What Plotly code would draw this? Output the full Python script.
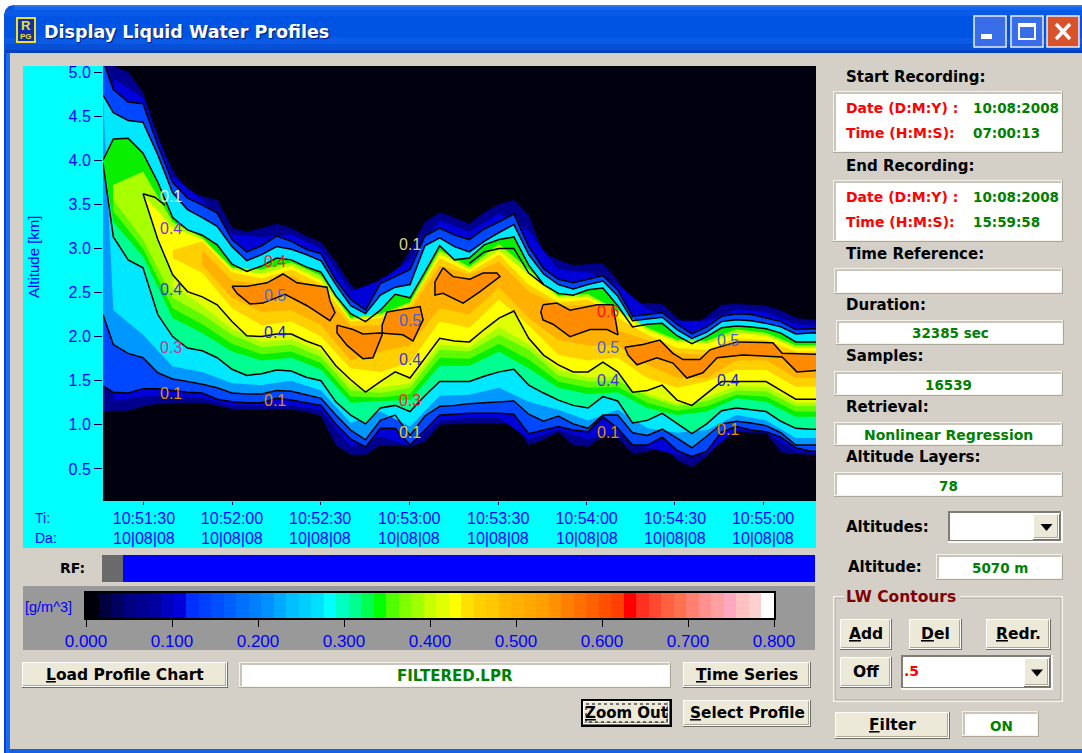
import plotly.graph_objects as go

W, H = 1082, 753
# ---------- chart data: seconds after 10:51:00, altitudes in km ----------
time_fine = [16.5, 20, 25, 30, 35, 40, 45, 50, 55, 60, 65, 70, 75, 80, 85, 90, 95, 100, 105, 110, 115, 120, 125, 130, 135,
             140, 145, 150, 155, 160, 165, 170, 175, 180, 185, 190, 195, 200, 205, 210, 215, 220, 225, 230, 235, 240, 245,
             250, 255, 260]
time_coarse = [20, 30, 40, 50, 60, 70, 80, 90, 100, 110, 120, 130, 140, 150, 160, 170, 180, 190, 200, 210, 220, 230, 240, 250, 260]

edge_top = [5.14,5.07,5.00,4.77,4.25,3.89,3.66,3.59,3.55,3.23,3.19,3.23,3.28,3.23,3.14,3.07,2.85,2.59,2.42,2.66,2.71,2.98,3.30,3.41,3.35,3.28,3.41,3.50,3.55,3.38,2.94,2.87,2.81,2.82,2.83,2.64,2.36,2.38,2.37,2.21,2.12,2.23,2.36,2.37,2.36,2.35,2.30,2.21,2.19,2.19]
upper_1 = [5.14,4.80,4.66,4.64,4.17,3.75,3.57,3.49,3.40,3.10,2.96,3.03,3.14,3.08,2.99,2.94,2.64,2.42,2.30,2.60,2.68,2.76,3.14,3.23,3.15,3.10,3.22,3.30,3.39,3.02,2.77,2.65,2.61,2.65,2.69,2.53,2.23,2.25,2.27,2.14,2.03,2.11,2.23,2.26,2.25,2.21,2.17,2.08,2.09,2.09]
upper_2 = [4.74,4.54,4.45,4.43,4.06,3.63,3.44,3.35,3.25,3.02,2.86,2.93,3.02,2.99,2.93,2.86,2.59,2.35,2.26,2.47,2.56,2.59,3.03,3.12,3.02,2.96,3.08,3.18,3.27,2.93,2.71,2.59,2.54,2.59,2.63,2.46,2.18,2.20,2.22,2.08,1.98,2.05,2.17,2.19,2.18,2.15,2.11,2.03,2.04,2.04]
upper_3 = [4.00,4.24,4.25,4.08,3.75,3.35,3.21,3.15,3.04,2.82,2.74,2.80,2.89,2.87,2.79,2.73,2.46,2.26,2.17,2.30,2.48,2.44,2.73,3.03,2.87,2.89,3.04,3.10,3.13,2.81,2.59,2.49,2.47,2.53,2.55,2.35,2.11,2.14,2.15,2.01,1.92,2.00,2.10,2.12,2.11,2.09,2.04,1.94,1.94,1.94]
lower_4 = [None,None,None,3.62,3.10,2.70,2.51,2.45,2.36,2.17,2.01,2.00,2.03,2.03,1.95,1.89,1.67,1.51,1.37,1.49,1.60,1.53,1.76,1.98,1.95,1.94,2.08,2.21,2.29,1.98,1.79,1.68,1.60,1.60,1.71,1.60,1.37,1.39,1.45,1.28,1.22,1.36,1.49,1.49,1.49,1.49,1.39,1.29,1.29,1.29]
lower_3 = [3.97,3.13,2.87,2.78,2.25,2.00,1.87,1.84,1.76,1.63,1.56,1.58,1.62,1.61,1.54,1.50,1.26,1.11,1.01,1.19,1.22,1.15,1.33,1.49,1.49,1.49,1.55,1.60,1.63,1.45,1.36,1.28,1.22,1.19,1.32,1.27,1.02,1.05,1.13,1.01,0.90,1.01,1.16,1.19,1.17,1.15,1.04,0.96,0.95,0.95]
lower_2 = [2.25,1.91,1.81,1.76,1.59,1.52,1.49,1.46,1.42,1.36,1.35,1.35,1.39,1.38,1.34,1.30,1.11,0.94,0.83,1.05,1.11,0.88,1.10,1.21,1.22,1.24,1.25,1.26,1.27,1.12,1.04,1.10,1.01,0.96,1.11,1.11,0.91,0.88,0.95,0.85,0.74,0.87,1.01,1.04,1.02,0.99,0.91,0.77,0.77,0.77]
lower_1 = [1.44,1.37,1.36,1.41,1.41,1.39,1.37,1.36,1.29,1.26,1.25,1.25,1.30,1.28,1.25,1.22,1.01,0.84,0.75,0.96,0.96,0.77,0.94,1.11,1.12,1.13,1.13,1.13,1.12,0.90,0.94,0.98,0.94,0.92,1.09,0.96,0.77,0.77,0.86,0.71,0.64,0.70,0.92,0.98,0.94,0.92,0.86,0.74,0.70,0.70]
edge_bottom = [1.15,1.16,1.16,1.21,1.24,1.25,1.25,1.25,1.22,1.18,1.17,1.17,1.17,1.17,1.15,1.10,0.77,0.66,0.66,0.77,0.77,0.75,0.81,1.00,1.01,1.02,1.02,1.02,1.02,0.77,0.83,0.92,0.77,0.75,0.87,0.85,0.68,0.69,0.79,0.60,0.52,0.64,0.83,0.92,0.91,0.91,0.69,0.67,0.66,0.66]

deep_top = [4.93,4.71,3.82,3.55,3.16,3.13,3.16,3.00,2.51,2.64,2.87,3.32,3.19,3.40,3.20,2.76,2.73,2.59,2.31,2.18,2.18,2.31,2.28,2.14,2.13]
deep_bottom = [1.27,1.32,1.33,1.30,1.22,1.21,1.22,1.17,0.75,0.87,0.76,1.05,1.08,1.08,0.84,0.94,0.84,0.91,0.74,0.66,0.67,0.94,0.91,0.70,0.68]
cyan_bottom = [2.30,2.02,1.66,1.60,1.47,1.45,1.50,1.39,1.02,1.15,0.98,1.33,1.34,1.42,1.26,1.17,1.05,1.17,0.96,0.91,0.94,1.11,1.05,0.85,0.85]
green_bottom = [3.30,2.91,2.21,2.04,1.83,1.73,1.76,1.63,1.25,1.27,1.28,1.67,1.67,1.83,1.64,1.42,1.35,1.37,1.19,1.11,1.15,1.30,1.26,1.09,1.09]
chartreuse_bottom = [3.42,3.00,2.32,2.14,1.92,1.80,1.83,1.70,1.32,1.31,1.35,1.76,1.75,1.92,1.74,1.49,1.42,1.43,1.25,1.16,1.21,1.34,1.32,1.15,1.15]
lime_bottom = [3.55,3.10,2.44,2.25,2.02,1.88,1.91,1.77,1.39,1.36,1.42,1.85,1.83,2.02,1.85,1.56,1.49,1.50,1.32,1.21,1.27,1.39,1.38,1.21,1.21]
lime_top = [3.72,3.87,3.30,3.12,2.78,2.76,2.84,2.69,2.21,2.26,2.39,2.98,2.79,3.05,2.76,2.46,2.48,2.30,2.10,1.96,1.95,2.08,2.04,1.90,1.90]
sun_bottom = [2.57,2.35,2.09,1.94,1.97,1.83,1.45,1.42,1.47,1.91,1.88,2.11,1.91,1.62,1.54,1.55,1.35,1.24,1.31,1.44,1.43,1.25,1.25]
yellow_top = [3.61,3.23,3.10,2.76,2.71,2.80,2.64,2.19,2.23,2.37,2.94,2.76,2.98,2.70,2.44,2.45,2.28,2.07,1.94,1.92,2.04,2.01,1.87,1.87]
gold_top = [2.98,3.08,2.73,2.66,2.76,2.60,2.17,2.21,2.36,2.89,2.73,2.93,2.59,2.39,2.42,2.21,2.02,1.87,1.85,1.98,1.96,1.83,1.83]
gold_bottom = [2.89,2.72,2.32,2.13,2.17,2.00,1.64,1.60,1.71,2.17,2.10,2.42,2.13,1.79,1.73,1.76,1.53,1.42,1.49,1.62,1.62,1.43,1.43]
amber_top = [2.98,2.64,2.59,2.69,2.51,2.12,2.13,2.30,2.81,2.70,2.85,2.51,2.35,2.36,2.07,1.96,1.81,1.79,1.94,1.91,1.76,1.76]
amber_bottom = [2.81,2.44,2.28,2.30,2.13,1.73,1.83,1.90,2.32,2.25,2.56,2.21,1.96,1.90,1.90,1.68,1.53,1.53,1.73,1.73,1.53,1.53]

extra_time = [140, 145, 150, 155, 160, 165]
extra_alt = [2.83, 2.96, 3.00, 3.00, 2.72, 2.59]
hook_time = [30, 34, 37.4]
hook_alt = [3.62, 3.58, 3.49]

island_a_t = [60,61.7,66.1,70.4,77.9,85.3,93,94.7,93,92,81.9,77.2,71.8,65.1,60]
island_a_alt = [2.57,2.49,2.37,2.38,2.48,2.35,2.18,2.27,2.41,2.56,2.61,2.71,2.61,2.57,2.57]
island_b_t = [95.4,100.8,104.1,109.9,117.6,121,122.7,124.4,123.4,116.6,112.2,110.6,110.6,107.5,104.1,98.8,95.4,95.4]
island_b_alt = [2.13,2.08,2.03,2.04,2.02,1.95,2.07,2.19,2.34,2.30,2.28,2.13,2.02,1.76,1.75,1.90,2.04,2.13]
island_c_t = [131.1,128.4,128.4,131.1,137.9,143.6,150.3,149.3,144.6,140.2,134.5,131.1]
island_c_alt = [2.78,2.62,2.47,2.49,2.38,2.51,2.68,2.72,2.72,2.65,2.68,2.78]
island_d_t = [164.8,169.5,173.9,183,188.4,190.1,186.4,180.7,173.9,168.2,164.8,164.1,164.8]
island_d_alt = [2.36,2.38,2.30,2.36,2.36,2.02,2.08,2.08,2.00,2.14,2.19,2.28,2.36]
island_e_t = [192.4,198.5,204.2,208.6,212,217.7,221.1,230.2,242.3,245.4,258,258,250.4,245.4,232.2,223.5,218.7,213.3,208.6,203.2,196.5,193.5,192.4]
island_e_alt = [1.88,1.91,1.96,1.81,1.74,1.74,1.85,1.94,1.93,1.81,1.80,1.62,1.60,1.77,1.79,1.76,1.59,1.53,1.70,1.76,1.68,1.79,1.88]

label_text = ["0.1","0.4","0.4","0.3","0.1","0.4","0.5","0.4","0.1","0.1","0.5","0.4","0.3","0.1","0.6","0.5","0.4","0.1","0.5","0.4","0.1"]
label_t = [39.4,39.4,39.4,39.4,39.4,74.5,74.5,74.5,74.5,120,120,120,120,120,186.7,186.7,186.7,186.7,227.2,227.2,227.2]
label_alt = [3.59,3.22,2.53,1.88,1.36,2.85,2.47,2.05,1.28,3.04,2.18,1.74,1.28,0.91,2.28,1.88,1.50,0.91,1.96,1.50,0.95]
label_color = ["#e8fff0","#8030d0","#3030e0","#d03090","#e09000","#ff2020","#4070d0","#2020e0","#e09000","#d8d080","#4060e0","#4030e0","#ff2020","#e8d020","#ff1010","#4060e0","#4030e0","#e09000","#4060e0","#2020e0","#e09000"]

x_tick_vals = [30.3, 60, 89.7, 119.7, 149.7, 179.5, 209.3, 239]
x_tick_time = ["10:51:30","10:52:00","10:52:30","10:53:00","10:53:30","10:54:00","10:54:30","10:55:00"]
x_tick_date = ["10|08|08"] * 8
y_ticks = [0.5,1.0,1.5,2.0,2.5,3.0,3.5,4.0,4.5,5.0]

bar_colors = ["#00000a","#000040","#000060","#000080","#000090","#0000a0","#0000c0","#0000d8","#0030ff","#0040ff","#0050ff","#0060ff","#0070ff","#0080ff","#0090ff","#00a8ff","#00c0ff","#00d0ff","#00e0ff","#00ffff",
              "#00ffc0","#00ff90","#00ff50","#00ff00","#50ff00","#80ff00","#a0ff00","#c8ff00","#e0ff00","#ffff00","#ffe000","#ffd000","#ffc800","#ffb800","#ffb000","#ffa800","#ffa000","#ff9000","#ff8000","#ff7000",
              "#ff6000","#ff5000","#ff4000","#ff0000","#ff3020","#ff4830","#ff6040","#ff7050","#ff8070","#ff9090","#ffa0a0","#ffa8c0","#ffc0c0","#ffd0d0","#ffffff"]
bar_ticks = [0.0,0.1,0.2,0.3,0.4,0.5,0.6,0.7,0.8]

for s in (edge_top,upper_1,upper_2,upper_3,lower_4,lower_3,lower_2,lower_1,edge_bottom):
    assert len(s) == len(time_fine), len(s)
for s in (deep_top,deep_bottom,cyan_bottom,green_bottom,chartreuse_bottom,lime_bottom,lime_top):
    assert len(s) == len(time_coarse), len(s)
assert len(sun_bottom) == len(time_coarse) - 2

# ---------- helpers ----------
shapes, notes = [], []
PANEL = "#d4d0c8"
FACE = "#ece9d8"
UI = "DejaVu Sans"
def X(x): return x / W
def Y(y): return 1 - y / H
def rect(x0, y0, x1, y1, fill, line=None, lw=1, layer="below"):
    shapes.append(dict(type="rect", xref="paper", yref="paper", x0=X(x0), x1=X(x1), y0=Y(y0), y1=Y(y1),
                       fillcolor=fill, line=dict(color=line or fill, width=lw if line else 0), layer=layer))
def path(points, fill=None, line=None, lw=1, layer="below", close=True):
    d = "M " + " L ".join(f"{X(a):.5f},{Y(b):.5f}" for a, b in points) + (" Z" if close else "")
    shapes.append(dict(type="path", xref="paper", yref="paper", path=d, fillcolor=fill or "rgba(0,0,0,0)",
                       line=dict(color=line or "rgba(0,0,0,0)", width=lw), layer=layer))
def text(x, y, s, color="#000000", size=15, bold=False, anchor="left", family=UI, angle=0, shadow=None):
    f = dict(family=family, size=size, color=color, weight=700 if bold else 400)
    if shadow: f["shadow"] = shadow
    if anchor == "left": x -= 2
    notes.append(dict(xref="paper", yref="paper", x=X(x), y=Y(y), text=s, showarrow=False, font=f,
                      xanchor=anchor, yanchor="middle", textangle=angle, align="center"))
def button(x0, y0, x1, y1, label=None, size=15.5):
    rect(x0, y0, x1, y1, "#716f64")
    rect(x0, y0, x1 - 1, y1 - 1, "#ffffff")
    rect(x0 + 1, y0 + 1, x1 - 2, y1 - 2, "#aca899")
    rect(x0 + 1, y0 + 1, x1 - 3, y1 - 3, FACE)
    if label: text((x0 + x1) / 2, (y0 + y1) / 2 - 0.5, label, "#000000", size, True, "center")
def field(x0, y0, x1, y1):
    rect(x0, y0, x1, y1, "#aca899")
    rect(x0, y0, x1 - 1, y1 - 1, "#f4f2ea")
    rect(x0 + 1, y0 + 1, x1 - 2, y1 - 2, "#c8c5bb")
    rect(x0 + 3, y0 + 3, x1 - 2, y1 - 2, "#ffffff")
def combo(x0, y0, x1, y1, bx0):
    rect(x0, y0, x1, y1, "#f8f8f4")
    rect(x0, y0, x1 - 2, y1 - 2, "#807d74")
    rect(x0 + 2, y0 + 2, x1 - 3, y1 - 3, "#ffffff")
    button(bx0, y0 + 3, x1 - 3, y1 - 3)
    cx, cy = (bx0 + x1 - 3) / 2, (y0 + y1) / 2
    path([(cx - 6, cy - 3), (cx + 6, cy - 3), (cx, cy + 4)], "#000000")

# ---------- window ----------
rect(0, 0, W, H, "#ffffff")
path([(4, 14), (6, 9), (9, 6), (14, 5), (W, 5), (W, H), (4, H)], "#0a55e0")
for y0, y1, c in [(5, 7, "#2a78f0"), (7, 10, "#1066ee"), (10, 16, "#0a5ae8"), (16, 38, "#0054e3"), (38, 44, "#0a5ae6"), (44, 50, "#0650d8"), (50, 53, "#0440c0")]:
    rect(14 if y0 < 9 else 5, y0, W, y1, c)
rect(4, 53, 6, H, "#0840d8")
rect(6, 53, 10, H, "#1a6cf0")
rect(10, 53, W, 749, PANEL)
rect(10, 749, W, H, "#1460e0")
rect(17, 18, 35, 42, "#1030b0", "#f0e020", 2)
text(26, 26, "R", "#f0e020", 13, True, "center", "Liberation Sans")
text(26, 37, "PG", "#f0e020", 8, True, "center", "Liberation Sans")
text(44, 32, "Display Liquid Water Profiles", "#ffffff", 17.5, True, shadow="1px 1px 1px #001a70")
for x0, x1, c in [(974, 1006, "#3a6ee8"), (1011, 1043, "#3a6ee8"), (1047, 1079, "#d8532c")]:
    rect(x0, 16, x1, 47, c, "#e8eefc", 1.5)
rect(981, 34, 992, 39, "#ffffff")
rect(1019, 24, 1035, 39, "rgba(0,0,0,0)", "#ffffff", 2)
rect(1018, 24, 1036, 27, "#ffffff")
path([(1056, 24), (1070, 39)], None, "#ffffff", 3.5, close=False)
path([(1070, 24), (1056, 39)], None, "#ffffff", 3.5, close=False)

# ---------- plot surround ----------
rect(23, 66, 816, 548, "#00ffff")
rect(103, 66, 816, 501, "#00000f")
text(34, 257, "Altitude [km]", "#0000ff", 15, False, "center", "Liberation Sans", -90)
text(35, 518, "Ti:", "#0000ff", 14, False, "left", "Liberation Sans")
text(35, 538, "Da:", "#0000ff", 14, False, "left", "Liberation Sans")
for tv, td in zip(x_tick_vals, x_tick_date):
    notes.append(dict(xref="x", yref="paper", x=tv, y=Y(538.5), text=td, showarrow=False, yanchor="middle",
                      font=dict(family="Liberation Sans", size=16, color="#0000ff")))

# RF + colour bar panel
text(60, 568, "RF:", "#000000", 14, True)
rect(102, 555, 815, 582, "#0000ff")
rect(102, 555, 123, 582, "#6a6a6a")
rect(23, 586, 815, 650, "#999999")
rect(85, 592, 775, 619, "rgba(0,0,0,0)", "#000000", 2, layer="above")
text(25, 607, "[g/m^3]", "#0000ff", 14.5, False, "left", "Liberation Sans")

# bottom buttons
button(22, 662, 228, 688, "<u>L</u>oad Profile Chart", 15.5)
field(239, 662, 671, 688)
text(455, 676, "FILTERED.LPR", "#008000", 15, True, "center")
button(683, 662, 811, 688, "<u>T</u>ime Series")
rect(581, 699, 672, 727, "#000000")
button(583, 701, 670, 725, "<u>Z</u>oom Out", 15)
path([(586, 704), (667, 704), (667, 722), (586, 722)], None, "#000000", 1)
shapes[-1]["line"]["dash"] = "dot"
button(683, 700, 811, 727, "<u>S</u>elect Profile", 15.3)

# right column
GREEN, RED = "#008000", "#ff0000"
text(846, 77, "Start Recording:", bold=True)
field(833, 91, 1063, 153)
text(846, 108, "Date (D:M:Y) :", RED, 14, True); text(973, 108, "10:08:2008", GREEN, 13.5, True)
text(846, 133, "Time (H:M:S):", RED, 14, True); text(973, 133, "07:00:13", GREEN, 13.5, True)
text(846, 166, "End Recording:", bold=True)
field(833, 180, 1063, 242)
text(846, 197, "Date (D:M:Y) :", RED, 14, True); text(973, 197, "10:08:2008", GREEN, 13.5, True)
text(846, 222, "Time (H:M:S):", RED, 14, True); text(973, 222, "15:59:58", GREEN, 13.5, True)
text(846, 254, "Time Reference:", bold=True)
field(834, 268, 1063, 294)
text(846, 305, "Duration:", bold=True)
field(836, 320, 1064, 345); text(950, 333, "32385 sec", GREEN, 13.5, True, "center")
text(846, 356, "Samples:", bold=True)
field(834, 371, 1063, 396); text(948, 385, "16539", GREEN, 13.5, True, "center")
text(846, 407, "Retrieval:", bold=True)
field(834, 422, 1063, 446); text(948, 435, "Nonlinear Regression", GREEN, 14, True, "center")
text(846, 457, "Altitude Layers:", bold=True)
field(834, 472, 1063, 497); text(948, 486, "78", GREEN, 13.5, True, "center")
text(846, 527, "Altitudes:", bold=True)
combo(948, 511, 1063, 543, 1033)
text(848, 567, "Altitude:", bold=True)
field(936, 554, 1063, 580); text(1000, 568, "5070 m", GREEN, 13.5, True, "center")
rect(834, 597, 1062, 701, "rgba(0,0,0,0)", "#f4f2ea", 2)
rect(835, 598, 1061, 700, "rgba(0,0,0,0)", "#aca899", 1)
rect(844, 590, 960, 604, PANEL)
text(846, 597, "LW Contours", "#800000", 15.5, True)
button(840, 619, 892, 650, "<u>A</u>dd")
button(909, 619, 962, 650, "<u>D</u>el")
button(986, 619, 1051, 650, "<u>R</u>edr.")
button(840, 657, 892, 688, "Off")
combo(901, 655, 1053, 690, 1024)
text(904, 671, ".5", RED, 14, True)
button(835, 712, 950, 739, "<u>F</u>ilter")
field(962, 711, 1039, 737); text(1001, 726, "ON", GREEN, 13.5, True, "center")

# ---------- traces ----------
fig = go.Figure()
def band(xt, top, xb, bot, color):
    pts = [(a, b) for a, b in zip(xb, bot) if b is not None][::-1]
    fig.add_trace(go.Scatter(x=list(xt) + [p[0] for p in pts], y=list(top) + [p[1] for p in pts], mode="none",
                             fill="toself", fillcolor=color, hoverinfo="skip", showlegend=False))
def contour(xs, ys):
    pts = [(a, b) for a, b in zip(xs, ys) if b is not None]
    fig.add_trace(go.Scatter(x=[p[0] for p in pts], y=[p[1] for p in pts], mode="lines", showlegend=False,
                             hoverinfo="skip", line=dict(color="#000000", width=1.5)))

band(time_fine, edge_top, time_fine, edge_bottom, "#00008c")
band(time_coarse, deep_top, time_coarse, deep_bottom, "#0000d8")
band(time_fine, upper_1, time_fine, lower_1, "#0048ff")
band(time_fine, upper_2, time_fine, lower_2, "#0098ff")
band(time_fine, upper_2, time_coarse, cyan_bottom, "#00e8ff")
band(time_fine, upper_3, time_fine, lower_3, "#00ff90")
band(time_fine, upper_3, time_coarse, green_bottom, "#08f000")
band(time_coarse, lime_top, time_coarse, chartreuse_bottom, "#60fa00")
band(time_coarse, lime_top, time_coarse, lime_bottom, "#a8ff00")
band(time_coarse[2:], yellow_top[1:], time_coarse[2:], sun_bottom, "#e0ff00")
band(time_coarse[1:], yellow_top, time_fine, lower_4, "#ffff00")
band(time_coarse[2:], gold_top, time_coarse[2:], gold_bottom, "#ffd000")
band(time_coarse[3:], amber_top, time_coarse[3:], amber_bottom, "#ffb000")
for it, ia in [(island_a_t, island_a_alt), (island_b_t, island_b_alt), (island_c_t, island_c_alt), (island_d_t, island_d_alt), (island_e_t, island_e_alt)]:
    fig.add_trace(go.Scatter(x=it, y=ia, mode="lines", fill="toself", fillcolor="#ff8c00", showlegend=False, hoverinfo="skip",
                             line=dict(color="#000000", width=1.5)))
for ys in (upper_1, upper_2, upper_3, lower_4, lower_3, lower_2, lower_1):
    contour(time_fine, ys)
contour(extra_time, extra_alt)
contour(hook_time, hook_alt)

for s, t, a, c in zip(label_text, label_t, label_alt, label_color):
    notes.append(dict(xref="x", yref="y", x=t, y=a, text=s, showarrow=False, font=dict(family="Liberation Sans", size=16, color=c)))

n = len(bar_colors)
scale = []
for i, c in enumerate(bar_colors):
    scale += [[i / n, c], [(i + 1) / n, c]]
fig.add_trace(go.Heatmap(x=[0.8 * (i + 0.5) / n for i in range(n)], y=[0], z=[[i + 0.5 for i in range(n)]], zmin=0, zmax=n,
                         colorscale=scale, showscale=False, hoverinfo="skip", xaxis="x2", yaxis="y2"))

tickfont = dict(family="Liberation Sans", size=16, color="#0000ff")
tickfont_x = dict(family="Liberation Sans", size=17, color="#0000ff")
fig.update_layout(
    width=W, height=H, margin=dict(l=0, r=0, t=0, b=0, autoexpand=False), paper_bgcolor="#ffffff", plot_bgcolor="#00000f",
    showlegend=False, shapes=shapes, annotations=notes, hovermode=False,
    xaxis=dict(domain=[X(103), X(816)], range=[16.52, 256.83], tickmode="array", tickvals=x_tick_vals, ticktext=x_tick_time,
               ticks="outside", ticklen=3, tickcolor="#000040", tickfont=tickfont, showgrid=False, zeroline=False, showline=False, anchor="y"),
    yaxis=dict(domain=[Y(501), Y(66)], range=[0.136, 5.068], tickmode="array", tickvals=y_ticks, ticktext=[f"{v:.1f}" for v in y_ticks],
               ticks="outside", ticklen=8, tickcolor="#000040", tickfont=tickfont, showgrid=False, zeroline=False, showline=False, anchor="x"),
    xaxis2=dict(domain=[X(86), X(774)], range=[0, 0.8], tickmode="array", tickvals=bar_ticks, ticktext=[f"{v:.3f}" for v in bar_ticks],
                ticks="outside", ticklen=8, tickcolor="#000000", tickfont=tickfont_x, showgrid=False, zeroline=False, anchor="y2"),
    yaxis2=dict(domain=[Y(618), Y(593)], range=[-0.5, 0.5], visible=False, anchor="x2"),
)
fig.write_html("out.html", config=dict(displayModeBar=False), post_script="document.body.style.margin='0';document.body.style.overflow='hidden';")
